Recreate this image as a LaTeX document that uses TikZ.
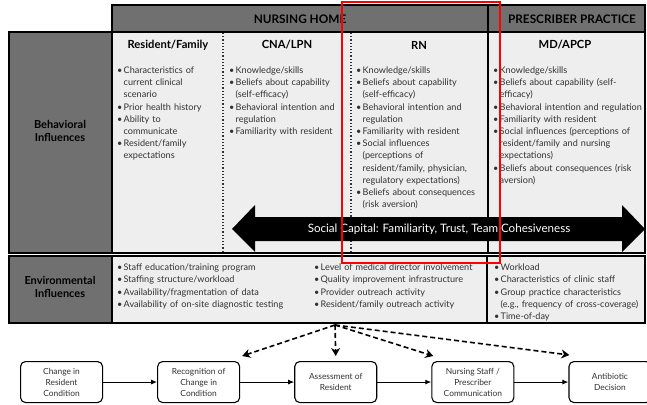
\documentclass[tikz,border=0pt]{standalone}
\usepackage{fontspec}
\setmainfont{Lato}
\usetikzlibrary{arrows.meta,positioning}
\definecolor{hdrgray}{RGB}{112,112,112}
\definecolor{bodygray}{RGB}{238,238,238}
\definecolor{inkgray}{RGB}{50,50,50}
\newcommand{\bpt}{\par\hangindent=6.5pt\hangafter=1\noindent\makebox[6.5pt][l]{\textbullet}}
\tikzset{
  hdrcell/.style={fill=hdrgray,draw=black,line width=1.2pt},
  bodycell/.style={fill=bodygray,draw=black,line width=1.2pt},
  colsep/.style={draw=black!80,line width=1.2pt,dotted},
  hdrtext/.style={font=\bfseries\fontsize{11.8}{13}\selectfont,text=black},
  colhead/.style={font=\bfseries\fontsize{11.2}{13}\selectfont,text=black},
  sidetext/.style={align=center,font=\bfseries\fontsize{11}{12.5}\selectfont,text=black},
  blist/.style={anchor=north west,align=left,text width=#1,inner sep=0pt,
    font=\fontsize{9.1}{12.2}\selectfont,text=inkgray},
  elist/.style={blist=#1,font=\fontsize{9.1}{12.3}\selectfont},
  stepbox/.style={draw=black,line width=1.1pt,fill=white,rounded corners=5pt,
    minimum width=82pt,minimum height=41pt,align=center,inner sep=1pt,
    font=\fontsize{8.4}{11}\selectfont,text=inkgray},
  stepflow/.style={-{Latex[length=6pt,width=5pt]},draw=black,line width=1pt},
  infl/.style={-{Stealth[length=8pt,width=9pt,inset=2.5pt]},draw=black,line width=1.6pt,
    dash pattern=on 5pt off 3pt}
}
\begin{document}
\begin{tikzpicture}[x=1pt,y=-1pt]
  \useasboundingbox (0,0) rectangle (647,404);
  % header band
  \draw[hdrcell] (112,5) rectangle (488,32);
  \draw[hdrcell] (488,5) rectangle (645,32);
  \node[hdrtext] (nhhead) at (300,19) {NURSING HOME};
  \node[hdrtext] (pphead) at (572,19) {PRESCRIBER PRACTICE};
  % behavioral row
  \draw[hdrcell] (9,32) rectangle (112,253);
  \draw[bodycell] (112,32) rectangle (645,253);
  \draw[line width=1.2pt] (488,32) -- (488,253);
  \draw[colsep] (223,33) -- (223,252);
  \draw[colsep] (351,33) -- (351,252);
  \node[sidetext] (behav) at (60,131) {Behavioral\\Influences};
  % environmental row
  \draw[hdrcell] (9,256) rectangle (112,323);
  \draw[bodycell] (112,256) rectangle (645,323);
  \draw[line width=1.2pt] (487,256) -- (487,323);
  \node[sidetext] (envir) at (60,287) {Environmental\\Influences};
  % column heads
  \node[colhead] (resfam) at (168,45) {Resident/Family};
  \node[colhead] (cnalpn) at (287,45) {CNA/LPN};
  \node[colhead] (rn) at (419,45) {RN};
  \node[colhead] (mdapcp) at (565,45) {MD/APCP};
  % behavioral influences
  \node[blist=110pt] (resfamlist) at (117,61) {%
    \bpt Characteristics of\newline current clinical\newline scenario
    \bpt Prior health history
    \bpt Ability to\newline communicate
    \bpt Resident/family\newline expectations\par};
  \node[blist=125pt] (cnalpnlist) at (229,61) {%
    \bpt Knowledge/skills
    \bpt Beliefs about capability\newline (self-efficacy)
    \bpt Behavioral intention and\newline regulation
    \bpt Familiarity with resident\par};
  \node[blist=135pt] (rnlist) at (356,61) {%
    \bpt Knowledge/skills
    \bpt Beliefs about capability\newline (self-efficacy)
    \bpt Behavioral intention and\newline regulation
    \bpt Familiarity with resident
    \bpt Social influences\newline (perceptions of\newline resident/family, physician,\newline regulatory expectations)
    \bpt Beliefs about consequences\newline (risk aversion)\par};
  \node[blist=165pt] (mdapcplist) at (493,61) {%
    \bpt Knowledge/skills
    \bpt Beliefs about capability (self-\newline efficacy)
    \bpt Behavioral intention and regulation
    \bpt Familiarity with resident
    \bpt Social influences (perceptions of\newline resident/family and nursing\newline expectations)
    \bpt Beliefs about consequences (risk\newline aversion)\par};
  % social capital arrow
  \fill[black] (232,229) -- (255,205) -- (255,217) -- (622,217) -- (622,205)
    -- (645,229) -- (622,252) -- (622,241) -- (255,241) -- (255,252) -- cycle;
  \node[text=white,font=\fontsize{11.6}{13}\selectfont] (social) at (439,229)
    {Social Capital: Familiarity, Trust, Team Cohesiveness};
  % environmental influences
  \node[elist=195pt] (envleft) at (117,258) {%
    \bpt Staff education/training program
    \bpt Staffing structure/workload
    \bpt Availability/fragmentation of data
    \bpt Availability of on-site diagnostic testing\par};
  \node[elist=170pt] (envmid) at (314,258) {%
    \bpt Level of medical director involvement
    \bpt Quality improvement infrastructure
    \bpt Provider outreach activity
    \bpt Resident/family outreach activity\par};
  \node[elist=160pt] (envright) at (494,258) {%
    \bpt Workload
    \bpt Characteristics of clinic staff
    \bpt Group practice characteristics\newline (e.g., frequency of cross-coverage)
    \bpt Time-of-day\par};
  % process steps
  \node[stepbox,anchor=north west] (change) at (20,361) {Change in\\Resident\\Condition};
  \node[stepbox,right=54pt of change] (recog) {Recognition of\\Change in\\Condition};
  \node[stepbox,right=54pt of recog] (assess) {Assessment of\\Resident};
  \node[stepbox,right=54pt of assess] (commun) {Nursing Staff /\\Prescriber\\Communication};
  \node[stepbox,right=54pt of commun] (decide) {Antibiotic\\Decision};
  \draw[stepflow] (change) -- (recog);
  \draw[stepflow] (recog) -- (assess);
  \draw[stepflow] (assess) -- (commun);
  \draw[stepflow] (commun) -- (decide);
  \coordinate (hub) at (335,325);
  \draw[infl] (hub) -- ([shift={(2pt,5pt)}]recog.north east);
  \draw[infl] (hub) -- ([yshift=5pt]assess.north);
  \draw[infl] (hub) -- ([shift={(2pt,5pt)}]commun.north west);
  \draw[infl] (hub) -- ([shift={(1pt,6pt)}]decide.north west);
  % highlight
  \draw[red,line width=2.6pt] (342,2) rectangle (500,263);
\end{tikzpicture}
\end{document}
